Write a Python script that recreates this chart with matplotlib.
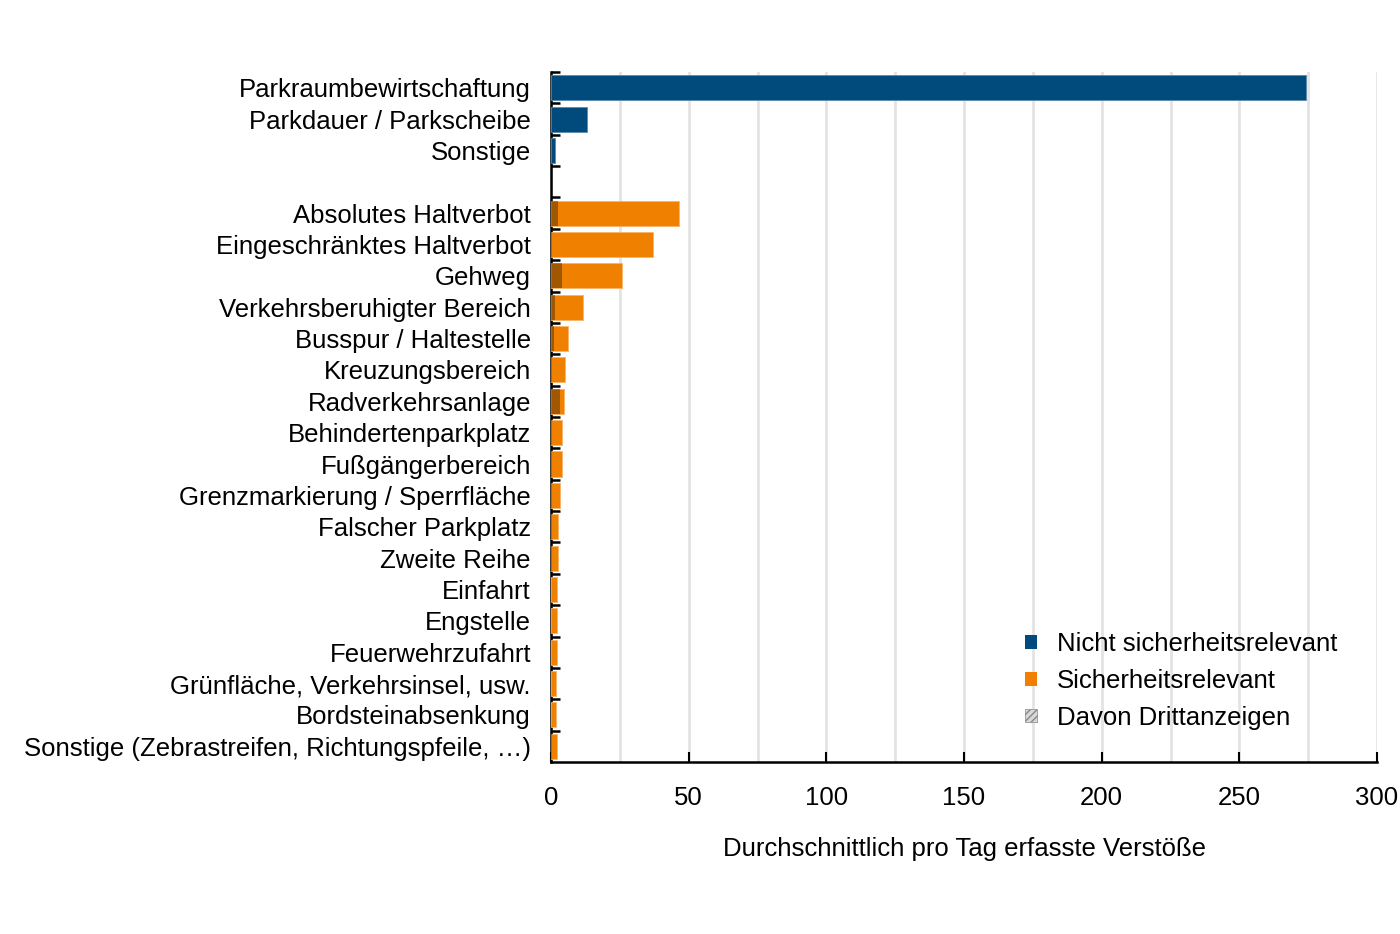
import matplotlib
matplotlib.use("Agg")
import matplotlib.pyplot as plt
from matplotlib.patches import Patch
import numpy as np

plt.rcParams['font.family'] = ['Liberation Sans', 'DejaVu Sans']

cat_nonsafety = ["Parkraumbewirtschaftung", "Parkdauer / Parkscheibe", "Sonstige"]
val_nonsafety = [274.2, 13.0, 1.6]
third_nonsafety = [0.0, 0.0, 0.0]

cat_safety = ["Absolutes Haltverbot", "Eingeschränktes Haltverbot", "Gehweg",
              "Verkehrsberuhigter Bereich", "Busspur / Haltestelle", "Kreuzungsbereich",
              "Radverkehrsanlage", "Behindertenparkplatz", "Fußgängerbereich",
              "Grenzmarkierung / Sperrfläche", "Falscher Parkplatz", "Zweite Reihe",
              "Einfahrt", "Engstelle", "Feuerwehrzufahrt", "Grünfläche, Verkehrsinsel, usw.",
              "Bordsteinabsenkung", "Sonstige (Zebrastreifen, Richtungspfeile, …)"]
val_safety = [46.6, 37.2, 25.9, 11.5, 6.3, 5.0, 4.8, 4.1, 4.0, 3.4, 2.4, 2.4,
              2.1, 2.0, 2.0, 1.9, 1.8, 2.3]
third_safety = [2.4, 0.3, 4.1, 1.3, 1.0, 0.4, 3.2, 0.3, 0.3, 0.2, 0.2, 0.2,
                0.1, 0.1, 0.1, 0.1, 0.1, 0.2]

legend_labels = ["Nicht sicherheitsrelevant", "Sicherheitsrelevant", "Davon Drittanzeigen"]
xticks = [0, 50, 100, 150, 200, 250, 300]
xlabel = "Durchschnittlich pro Tag erfasste Verstöße"

BLUE = "#004A7C"
ORANGE = "#F08100"
FS = 18.5

fig = plt.figure(figsize=(14, 9.34), dpi=100)
ax = fig.add_axes([0.3936, 0.1842, 0.59, 0.7387])

pos_ns = np.arange(len(cat_nonsafety))
pos_s = np.arange(len(cat_safety)) + len(cat_nonsafety) + 1
h = 0.8

ax.barh(pos_ns, val_nonsafety, height=h, color=BLUE, edgecolor="#5a8ab0", linewidth=0.6, zorder=3)
ax.barh(pos_s, val_safety, height=h, color=ORANGE, edgecolor="#f7b46a", linewidth=0.6, zorder=3)
ax.barh(pos_s, third_safety, height=h, color="black", alpha=0.33, linewidth=0, zorder=4)

ax.set_ylim(len(cat_nonsafety) + 1 + len(cat_safety) - 0.5, -0.5)
ax.set_xlim(0, 300)

ax.set_yticks(list(pos_ns) + list(pos_s))
ax.set_yticklabels(cat_nonsafety + cat_safety, fontsize=FS)
ax.tick_params(axis='y', which='major', length=0, pad=14.5)
ax.set_yticks(np.arange(-0.5, pos_s[-1] + 0.5, 1.0), minor=True)
ax.tick_params(axis='y', which='minor', direction='in', length=6.5, width=1.8, color='black')

ax.set_xticks(xticks)
ax.set_xticklabels([str(t) for t in xticks], fontsize=FS)
ax.set_xticks(np.arange(0, 301, 25), minor=True)
ax.tick_params(axis='x', which='major', direction='in', length=7, width=1.5, pad=17)
ax.tick_params(axis='x', which='minor', length=0)
ax.grid(axis='x', which='both', color='#e3e3e3', linewidth=2, zorder=0)
ax.set_axisbelow(True)

for s in ['top', 'right']:
    ax.spines[s].set_visible(False)
for s in ['left', 'bottom']:
    ax.spines[s].set_linewidth(1.8)

ax.set_xlabel(xlabel, fontsize=FS, labelpad=20)

handles = [Patch(facecolor=BLUE, edgecolor='none'),
           Patch(facecolor=ORANGE, edgecolor='none'),
           Patch(facecolor='#d8d8d8', edgecolor='#888888', hatch='/////', linewidth=0.5)]
leg = fig.legend(handles, legend_labels, loc='upper left',
                 bbox_to_anchor=(1025 / 1400, 1 - 632 / 934),
                 frameon=False, fontsize=FS, handlelength=0.45, handleheight=0.45,
                 handletextpad=0.78, labelspacing=0.5, borderpad=0, borderaxespad=0)

fig.savefig("out.png", dpi=100)
